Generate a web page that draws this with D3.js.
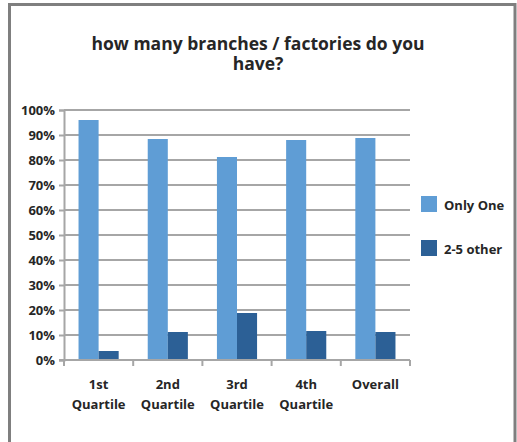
<!DOCTYPE html>
<html>
<head>
<meta charset="utf-8">
<script src="https://cdn.jsdelivr.net/npm/d3@7"></script>
<style>
  html, body { margin: 0; padding: 0; background: #fff; }
  svg { display: block; }
  text { font-family: "Open Sans", sans-serif; font-weight: bold; fill: #262626; }
</style>
</head>
<body>
<svg id="chart" width="517" height="442"></svg>
<script>
// Share of firms by number of branches / factories, per size quartile
const categories = [["1st", "Quartile"], ["2nd", "Quartile"], ["3rd", "Quartile"], ["4th", "Quartile"], ["Overall"]];
const seriesNames = ["Only One", "2-5 other"];
const onlyOne = [0.96, 0.884, 0.812, 0.88, 0.888];
const twoToFive = [0.036, 0.112, 0.188, 0.116, 0.112];
const yTicks = [0, 0.1, 0.2, 0.3, 0.4, 0.5, 0.6, 0.7, 0.8, 0.9, 1.0];
const colors = ["#5F9DD5", "#2C6096"];
const titleLines = ["how many branches / factories do you", "have?"];

const FONT = "'Open Sans', sans-serif";
const LABEL_SIZE = "13px";
const svg = d3.select("#chart");

// outer frame
svg.append("rect")
  .attr("x", 9.5).attr("y", 4.5)
  .attr("width", 505.5).attr("height", 460)
  .attr("fill", "#fff").attr("stroke", "#7f7f7f").attr("stroke-width", 3);

// title, two lines
svg.append("g")
  .selectAll("text")
  .data(titleLines)
  .join("text")
  .attr("x", 258)
  .attr("y", (d, i) => 50 + i * 20)
  .attr("text-anchor", "middle")
  .style("font-size", "17.5px")
  .text(d => d);

const margin = { left: 64, right: 410, top: 110, bottom: 360 };

const keys = categories.map(c => c.join(" "));
const x = d3.scaleBand()
  .domain(keys)
  .range([margin.left, margin.right])
  .paddingInner(0.42)
  .paddingOuter(0.21);

const xSub = d3.scaleBand()
  .domain(seriesNames)
  .range([0, x.bandwidth()]);

const y = d3.scaleLinear()
  .domain([0, 1])
  .range([margin.bottom, margin.top]);

// horizontal gridlines
svg.append("g")
  .selectAll("line")
  .data(yTicks.filter(t => t > 0))
  .join("line")
  .attr("x1", margin.left).attr("x2", margin.right)
  .attr("y1", d => y(d)).attr("y2", d => y(d))
  .attr("stroke", "#a6a6a6").attr("stroke-width", 2);

// y axis
const yAxis = svg.append("g")
  .attr("transform", `translate(${margin.left},0)`)
  .call(d3.axisLeft(y).tickValues(yTicks).tickFormat(d3.format(".0%")).tickSize(5).tickPadding(4));
yAxis.select(".domain").attr("stroke", "#a6a6a6").attr("stroke-width", 2);
yAxis.selectAll(".tick line").attr("stroke", "#a6a6a6").attr("stroke-width", 2);
yAxis.selectAll(".tick text")
  .style("font-size", LABEL_SIZE).style("font-family", FONT)
  .style("font-weight", "bold").attr("fill", "#262626");

// bars
const rows = keys.map((k, i) => ({ key: k, values: [onlyOne[i], twoToFive[i]] }));
const groups = svg.append("g")
  .selectAll("g")
  .data(rows)
  .join("g")
  .attr("transform", d => `translate(${x(d.key)},0)`);
groups.selectAll("rect")
  .data(d => d.values.map((v, j) => ({ name: seriesNames[j], v, j })))
  .join("rect")
  .attr("x", d => xSub(d.name))
  .attr("width", xSub.bandwidth())
  .attr("y", d => y(d.v))
  .attr("height", d => y(0) - y(d.v))
  .attr("fill", d => colors[d.j]);

// x axis
const step = x.step();
const xAxisG = svg.append("g");
xAxisG.append("line")
  .attr("x1", margin.left - 5).attr("x2", margin.right)
  .attr("y1", y(0)).attr("y2", y(0))
  .attr("stroke", "#a6a6a6").attr("stroke-width", 2);
xAxisG.selectAll("line.tick")
  .data(d3.range(keys.length + 1))
  .join("line")
  .attr("class", "tick")
  .attr("x1", i => margin.left + i * step).attr("x2", i => margin.left + i * step)
  .attr("y1", y(0)).attr("y2", y(0) + 6)
  .attr("stroke", "#a6a6a6").attr("stroke-width", 2);

svg.append("g")
  .selectAll("text")
  .data(categories)
  .join("text")
  .attr("text-anchor", "middle")
  .style("font-size", LABEL_SIZE)
  .each(function (d, i) {
    const cx = x(keys[i]) + x.bandwidth() / 2;
    d3.select(this).selectAll("tspan")
      .data(d)
      .join("tspan")
      .attr("x", cx)
      .attr("y", (t, k) => 389 + k * 20)
      .text(t => t);
  });

// legend
const legend = svg.append("g")
  .selectAll("g")
  .data(seriesNames)
  .join("g")
  .attr("transform", (d, i) => `translate(421,${196 + i * 44})`);
legend.append("rect")
  .attr("width", 16).attr("height", 16)
  .attr("fill", (d, i) => colors[i]);
legend.append("text")
  .attr("x", 23).attr("y", 14)
  .style("font-size", LABEL_SIZE)
  .text(d => d);
</script>
</body>
</html>
